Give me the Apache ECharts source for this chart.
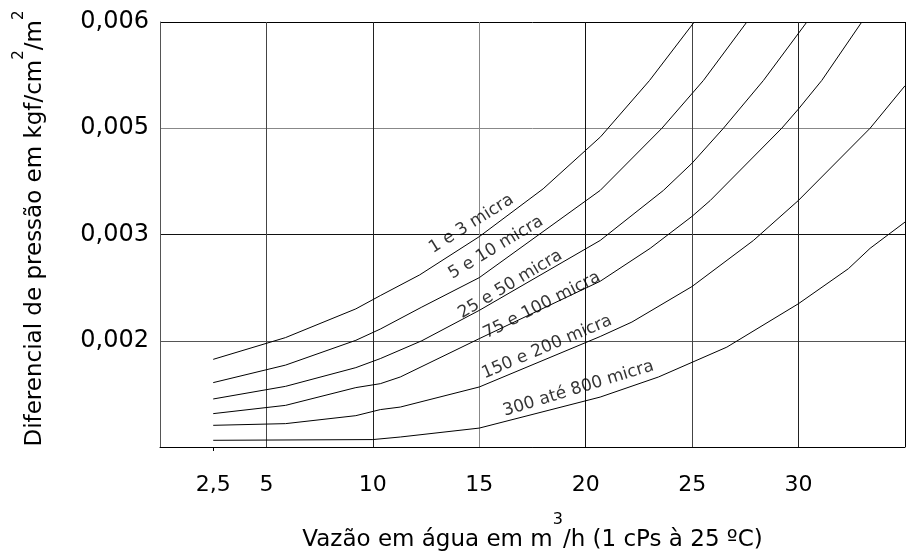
<!DOCTYPE html>
<html><head><meta charset="utf-8">
<script src="https://cdn.jsdelivr.net/npm/echarts@6/dist/echarts.min.js"></script>
<style>html,body{margin:0;padding:0;background:#fff}#c{width:908px;height:552px}</style>
</head><body><div id="c"></div>
<script>
// ---- data (y values are in grid-step units: 1 = 0,002, 2 = 0,003, 3 = 0,005, 4 = 0,006) ----
const seriesNames = ['1 e 3 micra','5 e 10 micra','25 e 50 micra','75 e 100 micra','150 e 200 micra','300 até 800 micra'];
const curve1 = [[2.5,0.825],[5.9,1.03],[9.2,1.30],[10.35,1.425],[12.2,1.62],[15,1.98],[18,2.43],[20.7,2.92],[23,3.45],[25.1,4.0]];
const curve2 = [[2.5,0.606],[5.9,0.771],[9.2,1.004],[10.35,1.11],[12.3,1.317],[15,1.594],[20.68,2.415],[23.58,3.0],[25.53,3.45],[27.57,4.0]];
const curve3 = [[2.5,0.452],[5.9,0.571],[9.2,0.747],[10.35,0.832],[12.3,1.0],[15,1.286],[20.68,1.944],[23.65,2.415],[24.99,2.67],[26.47,3.0],[28.35,3.45],[30.39,4.0]];
const curve4 = [[2.5,0.314],[5.9,0.392],[9.2,0.559],[10.35,0.596],[11.29,0.659],[15,1.02],[20.68,1.56],[23.03,1.87],[24.99,2.17],[25.85,2.32],[29.21,3.0],[29.99,3.18],[31.09,3.45],[32.97,4.0]];
const curve5 = [[2.5,0.204],[5.9,0.22],[9.2,0.295],[10.35,0.352],[11.29,0.376],[15,0.565],[20.68,1.04],[22.17,1.176],[24.99,1.51],[27.88,1.944],[29.99,2.32],[33.36,3.0],[35,3.40]];
const curve6 = [[2.5,0.063],[10,0.07],[11.29,0.094],[15,0.178],[20.68,0.47],[23.42,0.659],[26.63,0.94],[29.99,1.348],[32.34,1.678],[33.36,1.87],[35,2.117]];
const labelAnchors = [[14.63,2.10],[15.78,1.876],[16.46,1.53],[17.94,1.333],[18.18,0.94],[19.66,0.549]];
const yTickLabels = ['', '0,002', '0,003', '0,005', '0,006'];
const xLabelValues = [2.5, 5, 10, 15, 20, 25, 30];
const xTickValues = [2.5];

// ---- chart ----
const font = 'DejaVu Sans';
const curves = [curve1, curve2, curve3, curve4, curve5, curve6];
const labelAngles = [32, 31, 31, 27, 23, 17];
const chart = echarts.init(document.getElementById('c'), null, {renderer: 'canvas'});
const option = {
  animation: false,
  backgroundColor: '#fff',
  grid: {left: 160, right: 3, top: 22, bottom: 105, containLabel: false, outerBoundsMode: 'none'},
  xAxis: [{
    type: 'value', min: 0, max: 35, interval: 5, position: 'bottom',
    name: 'Vazão em água em m{sup|3}/h (1 cPs à 25 ºC)',
    nameLocation: 'middle', nameGap: 65,
    nameTextStyle: {fontFamily: font, fontSize: 23, color: '#000', lineHeight: 56,
      rich: {sup: {fontFamily: font, fontSize: 16, lineHeight: 16, verticalAlign: 'top', color: '#000'}}},
    axisLine: {show: true, onZero: false, lineStyle: {color: '#000', width: 1}},
    axisTick: {show: false},
    axisLabel: {customValues: xLabelValues, formatter: v => String(v).replace('.', ','),
      fontFamily: font, fontSize: 22, color: '#000', margin: 27},
    splitLine: {show: true, lineStyle: {width: 1,
      color: ['#555', '#444', '#222', '#888', '#111', '#444', '#222', '#000']}}
  }, {
    type: 'value', min: 0, max: 35, position: 'bottom', offset: 0,
    axisLine: {show: false},
    axisTick: {show: true, customValues: xTickValues, length: 4, lineStyle: {color: '#000'}},
    axisLabel: {show: false},
    splitLine: {show: false}
  }],
  yAxis: {
    type: 'value', min: 0, max: 4, interval: 1,
    name: 'Diferencial de pressão em kgf/cm{sup|2}/m{sup|2}',
    nameLocation: 'middle', nameGap: 102, nameRotate: 90,
    nameTextStyle: {fontFamily: font, fontSize: 23, color: '#000', lineHeight: 46, padding: [0, 0, 0, 12],
      rich: {sup: {fontFamily: font, fontSize: 15, lineHeight: 15, verticalAlign: 'top', color: '#000'}}},
    axisLine: {show: true, lineStyle: {color: '#555', width: 1}},
    axisTick: {show: false},
    axisLabel: {formatter: v => yTickLabels[Math.round(v)] || '', fontFamily: font, fontSize: 24, color: '#000', margin: 11},
    splitLine: {show: true, lineStyle: {width: 1, color: ['#000', '#555', '#111', '#888', '#000']}}
  },
  series: curves.map((c, i) => ({
    type: 'line', name: seriesNames[i], data: c, symbol: 'none', showSymbol: false,
    lineStyle: {color: '#000', width: 1}, silent: true, z: 3
  })).concat([{
    type: 'scatter', symbolSize: 0, silent: true, z: 4,
    data: labelAnchors.map((a, i) => ({value: [a[0], a[1]], name: seriesNames[i], label: {rotate: labelAngles[i]}})),
    label: {show: true, position: 'inside', formatter: '{b}', fontFamily: font, fontSize: 17, color: '#000'}
  }])
};
chart.setOption(option);
</script></body></html>
